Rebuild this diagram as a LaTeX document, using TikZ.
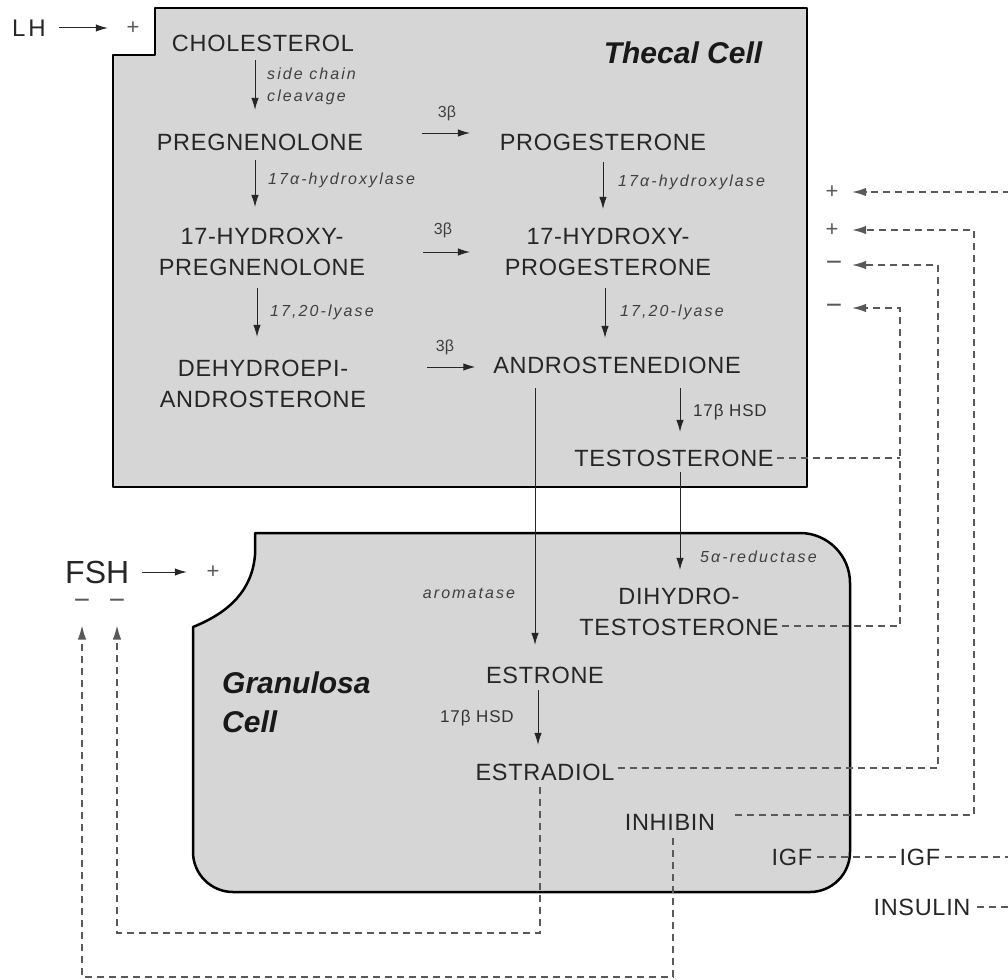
\documentclass[tikz,border=0pt]{standalone}
\usepackage{fontspec}
\setmainfont{Liberation Sans}
\usetikzlibrary{arrows.meta}
\tikzset{
  cellbox/.style={fill=black!16, draw=black, line width=2.5pt, line join=round},
  hor/.style={font=\fontsize{23.5}{31}\selectfont\addfontfeature{LetterSpace=3}, inner sep=0pt, text=black!85, align=center},
  enz/.style={font=\fontsize{16}{22}\selectfont\itshape\addfontfeature{LetterSpace=13}, inner sep=0pt, anchor=west, text=black!75, align=left},
  hsd/.style={font=\fontsize{17}{20}\selectfont\addfontfeature{LetterSpace=5}, inner sep=0pt, anchor=west, text=black!80},
  betalab/.style={font=\fontsize{16}{17}\selectfont, inner sep=0pt, text=black!75},
  celltitle/.style={font=\fontsize{30}{39}\selectfont\bfseries\itshape, inner sep=0pt, text=black!90},
  plussign/.style={font=\fontsize{22}{22}\selectfont, inner sep=0pt, text=black!65, text height=13.2pt, text depth=-2.2pt},
  minussign/.style={font=\fontsize{28}{28}\selectfont, inner sep=0pt, text=black!65, text height=12.6pt, text depth=-4.8pt},
  arr/.style={-{Latex[length=12pt,width=7.5pt]}, line width=1pt, draw=black!85},
  dsh/.style={dash pattern=on 7pt off 5pt, line width=1.2pt, draw=black!65},
  dtip/.style={-{Latex[length=14pt,width=8.5pt]}},
}
\begin{document}
\begin{tikzpicture}[x=1pt,y=-1pt]
\useasboundingbox (0,0) rectangle (1008,979);
% cells
\path[cellbox] (155,8) -- (807,8) -- (807,487) -- (113,487) -- (113,55) -- (155,55) -- cycle;
\path[cellbox] (255,533) -- (800,533) .. controls (827.6,533) and (850,555.4) .. (850,583)
  -- (850,852) .. controls (850,874) and (832,892) .. (810,892)
  -- (233,892) .. controls (211,892) and (193,874) .. (193,852)
  -- (193,627) .. controls (230,612) and (252,590) .. (255,555) -- cycle;

% titles
\node[celltitle] (thecal) at (683,53) {Thecal Cell};
\node[celltitle, anchor=west, align=left] (gran) at (222,702) {Granulosa\\Cell};

% steroids
\node[hor] (chol) at (263,43) {CHOLESTEROL};
\node[hor] (preg) at (260,142) {PREGNENOLONE};
\node[hor] (prog) at (603,142) {PROGESTERONE};
\node[hor] (hpreg) at (262,252) {17-HYDROXY-\\PREGNENOLONE};
\node[hor] (hprog) at (608,252) {17-HYDROXY-\\PROGESTERONE};
\node[hor] (dhea) at (263,383.5) {DEHYDROEPI-\\ANDROSTERONE};
\node[hor] (andro) at (617,365) {ANDROSTENEDIONE};
\node[hor] (testo) at (674,458) {TESTOSTERONE};
\node[hor] (dht) at (679,612) {DIHYDRO-\\TESTOSTERONE};
\node[hor] (estrone) at (545,675) {ESTRONE};
\node[hor] (estradiol) at (545,772) {ESTRADIOL};
\node[hor] (inhibin) at (670,822) {INHIBIN};
\node[hor] (igfin) at (792,857) {IGF};
\node[hor] (igfout) at (920,857) {IGF};
\node[hor] (insulin) at (922,907) {INSULIN};

% enzyme labels
\node[enz] (l1) at (267,86) {side chain\\cleavage};
\node[enz] (l2) at (268,180) {17α-hydroxylase};
\node[enz] (l3) at (618,182) {17α-hydroxylase};
\node[enz] (l4) at (270,312) {17,20-lyase};
\node[enz] (l5) at (620,312) {17,20-lyase};
\node[enz, anchor=center] (l6) at (469,593) {aromatase};
\node[enz] (l7) at (700,557) {5α-reductase};
\node[hsd] (l8) at (693,412) {17β HSD};
\node[hsd] (l9) at (440,718) {17β HSD};
\node[betalab] (b1) at (447,113) {3β};
\node[betalab] (b2) at (443,230) {3β};
\node[betalab] (b3) at (445,347) {3β};

% hormones outside
\node[hor, anchor=west, font=\fontsize{24}{26}\selectfont\addfontfeature{LetterSpace=12}] (lh) at (12,28) {LH};
\node[plussign] (lhp) at (133,28) {+};
\node[hor, anchor=west, font=\fontsize{32}{34}\selectfont] (fsh) at (65,572) {FSH};
\node[plussign] (fshp) at (213,572) {+};
\node[minussign] (fm1) at (82,603) {−};
\node[minussign] (fm2) at (117,603) {−};
\node[plussign] (p1) at (832,192) {+};
\node[plussign] (p2) at (832,230) {+};
\node[minussign] (m3) at (834,265) {−};
\node[minussign] (m4) at (834,308) {−};

% bend points
\coordinate (c4) at (900,308);
\coordinate (c3) at (938,265);
\coordinate (c2) at (974,230);
\coordinate (e1) at (1010,192);
\coordinate (e5) at (1010,857);
\coordinate (e6) at (1010,907);
\coordinate (c7) at (117,933);
\coordinate (c8) at (82,977);

% solid arrows
\draw[arr, shorten <=13.5pt, shorten >=18.6pt] (lh.east) -- (lhp.west);
\draw[arr, shorten <=13pt, shorten >=19.6pt] (fsh.east) -- (fshp.west);
\draw[arr, shorten <=8.6pt, shorten >=23.6pt] ([xshift=-8pt]chol.south) -- ([xshift=-8pt]chol.south |- preg.north);
\draw[arr, shorten <=9.6pt, shorten >=21pt] ([xshift=-5pt]preg.south) -- ([xshift=-5pt]preg.south |- hpreg.north);
\draw[arr, shorten <=11.6pt, shorten >=19pt] (prog.south) -- (prog.south |- hprog.north);
\draw[arr, shorten <=12pt, shorten >=22.6pt] ([xshift=-5pt]hpreg.south) -- ([xshift=-5pt]hpreg.south |- dhea.north);
\draw[arr, shorten <=12pt, shorten >=18.6pt] ([xshift=-3pt]hprog.south) -- ([xshift=-3pt]hprog.south |- andro.north);
\draw[arr, shorten <=58.5pt, shorten >=29.8pt] ([yshift=9pt]preg.east) -- ([yshift=9pt]prog.west);
\draw[arr, shorten <=57.5pt, shorten >=34.8pt] (hpreg.east) -- (hprog.west);
\draw[arr, shorten <=60.5pt, shorten >=17.7pt] ([yshift=16.5pt]dhea.east) -- ([yshift=16.5pt]dhea.east -| andro.west);
\draw[arr, shorten <=14.6pt, shorten >=17.6pt] ([xshift=63pt]andro.south) -- ([xshift=63pt]andro.south |- testo.north);
\draw[arr, shorten <=14.6pt, shorten >=21.6pt] ([xshift=-82pt]andro.south) -- ([xshift=-82pt]andro.south |- estrone.north);
\draw[arr, shorten <=5.6pt, shorten >=18.1pt] ([xshift=6pt]testo.south) -- ([xshift=6pt]testo.south |- dht.north);
\draw[arr, shorten <=6.6pt, shorten >=18.6pt] ([xshift=-7pt]estrone.south) -- ([xshift=-7pt]estrone.south |- estradiol.north);

% dashed feedback
\draw[dsh, shorten <=3pt] (testo.east) -- (testo.east -| c4);
\draw[dsh, dtip, shorten <=3pt, shorten >=9.8pt] ([yshift=-14pt]dht.east) -| (c4) -- (m4);
\draw[dsh, dtip, shorten <=3pt, shorten >=9.8pt] ([yshift=4pt]estradiol.east) -| (c3) -- (m3);
\draw[dsh, dtip, shorten <=20pt, shorten >=13.6pt] ([yshift=7pt]inhibin.east) -| (c2) -- (p2);
\draw[dsh, dtip, shorten >=13.6pt] (e1) -- (p1);
\draw[dsh, shorten <=4pt, shorten >=4pt] (igfin.east) -- (igfout.west);
\draw[dsh, shorten <=4pt] (igfout.east) -- (e5);
\draw[dsh, shorten <=6pt] (insulin.east) -- (e6);
\draw[dsh, dtip, shorten <=6pt, shorten >=16pt] ([xshift=-5pt]estradiol.south) |- (c7) -- (fm2);
\draw[dsh, dtip, shorten <=8pt, shorten >=16pt] ([xshift=3pt]inhibin.south) |- (c8) -- (fm1);
\end{tikzpicture}
\end{document}
